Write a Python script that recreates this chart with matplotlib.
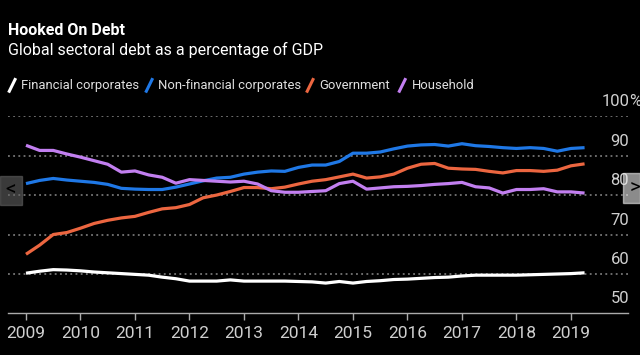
import matplotlib
matplotlib.use("Agg")
import matplotlib.pyplot as plt
from matplotlib.lines import Line2D
from matplotlib.patches import Rectangle
import matplotlib.transforms as mtransforms

plt.rcParams['font.family'] = ['Roboto', 'DejaVu Sans']

# quarterly, 2009 Q1 .. 2019 Q2
quarters = [2009 + 0.25 * i for i in range(42)]

financial = [60.2, 60.7, 61.1, 61.0, 60.8, 60.5, 60.3, 60.1, 59.9, 59.7,
             59.2, 58.8, 58.2, 58.2, 58.2, 58.5, 58.2, 58.2, 58.2, 58.2,
             58.1, 58.0, 57.7, 58.1, 57.7, 58.1, 58.3, 58.6, 58.7, 58.9,
             59.1, 59.2, 59.5, 59.7, 59.7, 59.7, 59.7, 59.8, 59.9, 60.0,
             60.1, 60.3]
non_financial = [82.9, 83.7, 84.2, 83.8, 83.5, 83.2, 82.7, 81.7, 81.5, 81.4,
                 81.4, 82.0, 82.8, 83.6, 84.3, 84.5, 85.3, 85.8, 86.1, 86.0,
                 87.0, 87.6, 87.6, 88.5, 90.6, 90.6, 90.9, 91.7, 92.4, 92.7,
                 92.8, 92.4, 93.0, 92.5, 92.3, 92.0, 91.8, 92.0, 91.8, 91.1,
                 91.8, 92.0]
government = [65.0, 67.3, 70.0, 70.5, 71.6, 72.8, 73.6, 74.2, 74.6, 75.6,
              76.5, 76.8, 77.6, 79.3, 80.0, 80.9, 81.9, 81.9, 81.6, 82.0,
              82.8, 83.5, 83.9, 84.6, 85.3, 84.3, 84.6, 85.3, 86.8, 87.8,
              88.0, 86.8, 86.6, 86.5, 86.0, 85.6, 86.2, 86.2, 86.0, 86.3,
              87.4, 87.9]
household = [92.6, 91.3, 91.3, 90.4, 89.6, 88.7, 87.8, 85.8, 86.1, 85.1,
             84.5, 83.0, 83.9, 83.7, 83.5, 83.3, 83.5, 82.8, 81.1, 80.7,
             80.7, 80.9, 81.1, 82.9, 83.5, 81.5, 81.8, 82.1, 82.2, 82.4,
             82.7, 82.9, 83.2, 82.1, 81.8, 80.5, 81.4, 81.4, 81.6, 80.8,
             80.8, 80.5]

names = ["Financial corporates", "Non-financial corporates", "Government", "Household"]
colors = ["#ffffff", "#1f78e6", "#ec6640", "#c27ff0"]
series = [financial, non_financial, government, household]

years = list(range(2009, 2020))
yticks = [50, 60, 70, 80, 90, 100]

fig = plt.figure(figsize=(6.4, 3.55), dpi=100, facecolor="black")
ax = fig.add_axes([0.0125, 0.117, 0.969, 0.556], facecolor="black")

for vals, c in zip(series, colors):
    ax.plot(quarters, vals, color=c, lw=2.3, solid_capstyle="butt", zorder=3)

ax.set_xlim(2008.67, 2020.05)
ax.set_ylim(50, 100)

for v in yticks[1:]:
    ax.axhline(v, color="#8a8a8a", lw=1.1, ls=(0, (1.2, 2.2)), zorder=1)

ax.set_yticks([])
ax.set_xticks(years)
ax.set_xticklabels([str(y) for y in years], fontsize=12.5)
ax.tick_params(axis="x", colors="#aaaaaa", length=5, width=1, pad=4,
               labelcolor="#cfcfcf")
for s in ["top", "left", "right"]:
    ax.spines[s].set_visible(False)
ax.spines["bottom"].set_color("#aaaaaa")
ax.spines["bottom"].set_linewidth(1)

# right-hand y labels sitting above their gridlines
tr = mtransforms.blended_transform_factory(ax.transAxes, ax.transData)
off = mtransforms.offset_copy(tr, fig=fig, x=0, y=7, units="dots")
for v in yticks:
    ax.text(1.0016, v, str(v), transform=off, ha="right", va="bottom",
            color="#d0d0d0", fontsize=12)
ax.text(1.0016, 100, "%", transform=off, ha="left", va="bottom",
        color="#d0d0d0", fontsize=12)

# titles
fig.text(0.0125, 0.913, "Hooked On Debt", color="white", fontsize=11.5,
         fontweight="bold", va="center", ha="left")
fig.text(0.0125, 0.860, "Global sectoral debt as a percentage of GDP",
         color="white", fontsize=11.5, va="center", ha="left")

# legend with short slanted swatches
lx = [0.0125, 0.2266, 0.478, 0.622]
for x0, name, c in zip(lx, names, colors):
    fig.add_artist(Line2D([x0 + 0.002, x0 + 0.011], [0.743, 0.776],
                          color=c, lw=2.2, transform=fig.transFigure))
    fig.text(x0 + 0.021, 0.759, name, color="#e0e0e0", fontsize=9.4,
             va="center", ha="left")

# carousel arrows (translucent, as in the slideshow overlay)
fig.add_artist(Rectangle((0, 1 - 205 / 355), 22 / 640, 29 / 355,
                         transform=fig.transFigure, color="#616161",
                         alpha=0.6, zorder=5))
fig.text(11 / 640, 1 - 190 / 355, "<", color="black", fontsize=15,
         ha="center", va="center", zorder=6)
fig.add_artist(Rectangle((623 / 640, 1 - 203 / 355), 17 / 640, 30 / 355,
                         transform=fig.transFigure, color="#e9e9e9",
                         alpha=0.6, zorder=5))
fig.text(635 / 640, 1 - 188 / 355, ">", color="black", fontsize=15,
         ha="center", va="center", zorder=6)

fig.savefig("out.png", dpi=100, facecolor="black")
